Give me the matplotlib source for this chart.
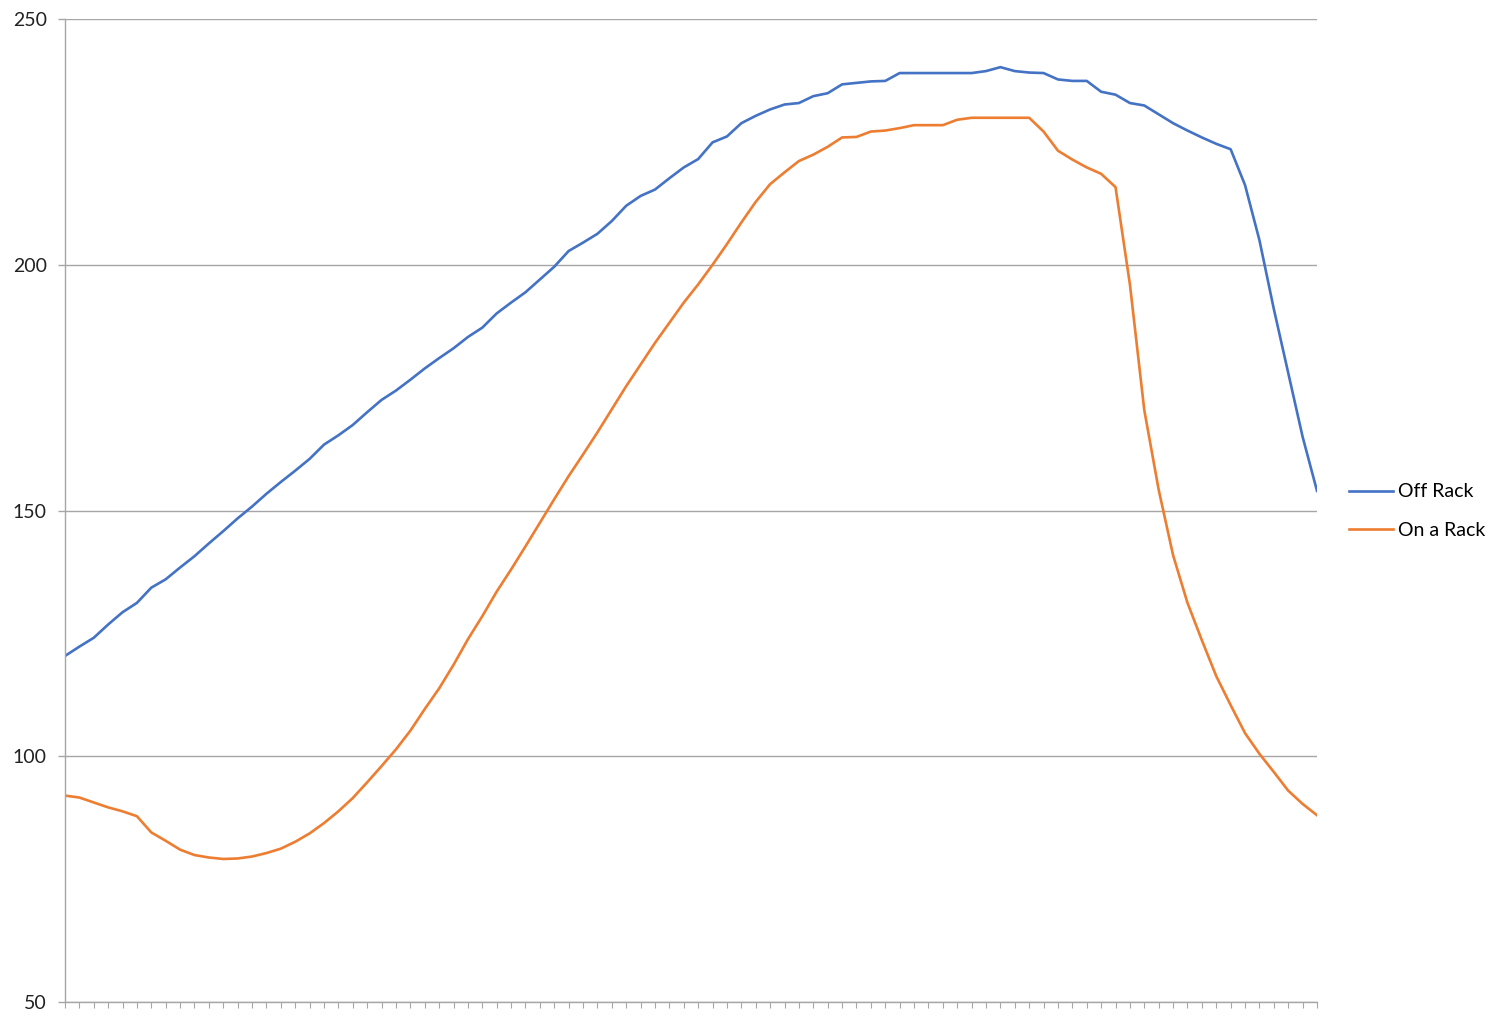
import numpy as np
import matplotlib
matplotlib.use("Agg")
import matplotlib.pyplot as plt

plt.rcParams['font.family'] = ['Lato', 'DejaVu Sans']

# データ (88 points)
off_rack = [
    120.4, 122.3, 124.1, 126.8, 129.3, 131.2, 134.3, 136.0, 138.4, 140.7,
    143.3, 145.8, 148.4, 150.8, 153.4, 155.8, 158.1, 160.5, 163.4, 165.3,
    167.4, 170.0, 172.5, 174.4, 176.6, 178.9, 181.0, 183.0, 185.3, 187.2,
    190.1, 192.3, 194.4, 197.0, 199.6, 202.8, 204.5, 206.3, 208.9, 212.0,
    214.0, 215.3, 217.6, 219.8, 221.5, 224.9, 226.1, 228.8, 230.3, 231.6,
    232.6, 232.9, 234.3, 234.9, 236.7, 237.0, 237.3, 237.4, 239.0, 239.0,
    239.0, 239.0, 239.0, 239.0, 239.4, 240.2, 239.4, 239.1, 239.0, 237.7,
    237.4, 237.4, 235.2, 234.6, 232.9, 232.4, 230.6, 228.8, 227.3, 225.9,
    224.6, 223.5, 216.2, 205.0, 191.0, 178.0, 165.0, 154.0,
]
on_rack = [
    92.0, 91.6, 90.6, 89.6, 88.8, 87.8, 84.5, 82.8, 81.0, 79.9,
    79.4, 79.1, 79.2, 79.6, 80.3, 81.2, 82.6, 84.3, 86.4, 88.8,
    91.5, 94.7, 98.0, 101.4, 105.2, 109.6, 113.8, 118.6, 123.8, 128.5,
    133.5, 138.0, 142.7, 147.5, 152.3, 157.0, 161.4, 165.9, 170.6, 175.3,
    179.7, 184.1, 188.2, 192.3, 196.0, 200.0, 204.2, 208.6, 212.8, 216.4,
    218.8, 221.1, 222.4, 224.0, 225.9, 226.0, 227.1, 227.3, 227.8, 228.4,
    228.4, 228.4, 229.5, 229.9, 229.9, 229.9, 229.9, 229.9, 227.1, 223.2,
    221.4, 219.8, 218.5, 215.8, 196.0, 170.4, 154.2, 140.9, 131.2, 123.6,
    116.3, 110.4, 104.7, 100.5, 96.8, 93.0, 90.3, 88.0,
]
labels = ["Off Rack", "On a Rack"]
colors = ["#4472C4", "#ED7D31"]
y_ticks = [50, 100, 150, 200, 250]

x = np.arange(len(off_rack))

fig = plt.figure(figsize=(15, 10.21), dpi=100)
ax = fig.add_axes([0.0433, 0.0186, 0.8347, 0.9628])

ax.plot(x, off_rack, color=colors[0], lw=1.9, label=labels[0])
ax.plot(x, on_rack, color=colors[1], lw=1.9, label=labels[1])

ax.set_xlim(0, len(x) - 1)
ax.set_ylim(50, 250)
ax.set_yticks(y_ticks)
ax.set_xticks(x)
ax.set_xticklabels([])
ax.grid(axis="y", color="#a6a6a6", lw=1.0)
ax.set_axisbelow(True)

for side in ["top", "right"]:
    ax.spines[side].set_visible(False)
for side in ["left", "bottom"]:
    ax.spines[side].set_color("#a6a6a6")
    ax.spines[side].set_linewidth(1.0)

ax.tick_params(axis="y", length=5, width=1.0, color="#a6a6a6",
               labelsize=14, labelcolor="#222222", pad=8)
ax.tick_params(axis="x", length=4, width=0.8, color="#a6a6a6")

fig.legend(loc="center left", bbox_to_anchor=(0.899, 0.4995), frameon=False,
           fontsize=14, handlelength=2.3, handletextpad=0.25,
           labelspacing=1.1, borderpad=0, borderaxespad=0)

plt.savefig("out.png", dpi=100)
